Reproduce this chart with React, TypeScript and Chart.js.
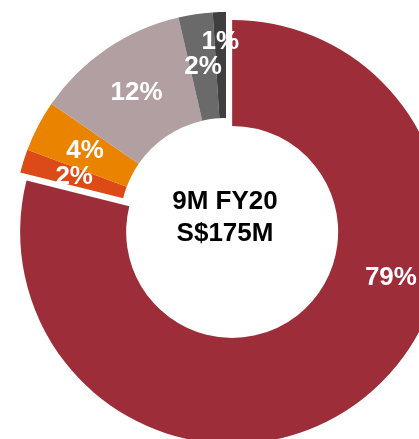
import React, { useEffect, useRef } from 'react';
import { Chart, registerables } from 'chart.js';

Chart.register(...registerables);

// ---- data ----
const categories = ['Segment 1', 'Segment 2', 'Segment 3', 'Segment 4', 'Segment 5', 'Segment 6'];
const shares = [78.9, 1.8, 3.9, 11.8, 2.6, 1.0];
const shareLabels = ['79%', '2%', '4%', '12%', '2%', '1%'];
const centerLines = ['9M FY20', 'S$175M'];

// ---- styles ----
const sliceColors = ['#9D2D39', '#DC4A17', '#EA8400', '#B29FA2', '#6A6A6A', '#3F3F3F'];
const FONT = '"Liberation Sans", Arial, sans-serif';
// label placement inside each slice: fraction along the slice angle, fraction across the ring
const labelAngleFrac = [0.374, 0.5, 0.5, 0.5, 0.5, 0.5];
const labelRadiusFrac = [0.56, 0.5, 0.5, 0.5, 0.5, 0.72];
const EXPLODE = 10;

const explodePlugin = {
  id: 'explodeFirst',
  afterUpdate(chart: any) {
    const meta = chart.getDatasetMeta(0);
    const ref = meta.data[1];
    const a = meta.data[0];
    if (!ref || !a) return;
    const half = (a.startAngle + a.endAngle) / 2;
    a.x = ref.x + Math.cos(half) * EXPLODE;
    a.y = ref.y + Math.sin(half) * EXPLODE;
  },
};

const labelPlugin = {
  id: 'sliceLabels',
  afterDatasetsDraw(chart: any) {
    const ctx = chart.ctx;
    const meta = chart.getDatasetMeta(0);
    ctx.save();
    ctx.font = `bold 26px ${FONT}`;
    ctx.fillStyle = '#FFFFFF';
    ctx.textAlign = 'center';
    ctx.textBaseline = 'middle';
    meta.data.forEach((el: any, i: number) => {
      const { x, y, startAngle, endAngle, innerRadius, outerRadius } = el;
      const ang = startAngle + (endAngle - startAngle) * labelAngleFrac[i];
      const r = innerRadius + (outerRadius - innerRadius) * labelRadiusFrac[i];
      ctx.fillText(shareLabels[i], x + Math.cos(ang) * r, y + Math.sin(ang) * r);
    });
    // center text
    const c = meta.data[1];
    ctx.fillStyle = '#000000';
    ctx.textBaseline = 'alphabetic';
    ctx.fillText(centerLines[0], c.x - 1, c.y - 15);
    ctx.fillText(centerLines[1], c.x - 1, c.y + 17);
    ctx.restore();
  },
};

export default function App() {
  const ref = useRef<HTMLCanvasElement | null>(null);
  useEffect(() => {
    if (!ref.current) return;
    const chart = new Chart(ref.current, {
      type: 'doughnut',
      data: {
        labels: categories,
        datasets: [
          {
            data: shares,
            backgroundColor: sliceColors,
            borderWidth: 0,
            clip: false as any,
          },
        ],
      },
      options: {
        animation: false,
        responsive: false,
        radius: 212,
        cutout: '50%',
        layout: { padding: { left: 33, right: 0, top: 9, bottom: 0 } },
        plugins: {
          legend: { display: false },
          tooltip: { enabled: false },
        },
      } as any,
      plugins: [explodePlugin, labelPlugin],
    });
    return () => chart.destroy();
  }, []);
  return (
    <div style={{ position: 'fixed', left: 0, top: 0, width: 419, height: 439, background: '#fff' }}>
      <canvas ref={ref} width={419} height={439} style={{ width: 419, height: 439, display: 'block' }} />
    </div>
  );
}
